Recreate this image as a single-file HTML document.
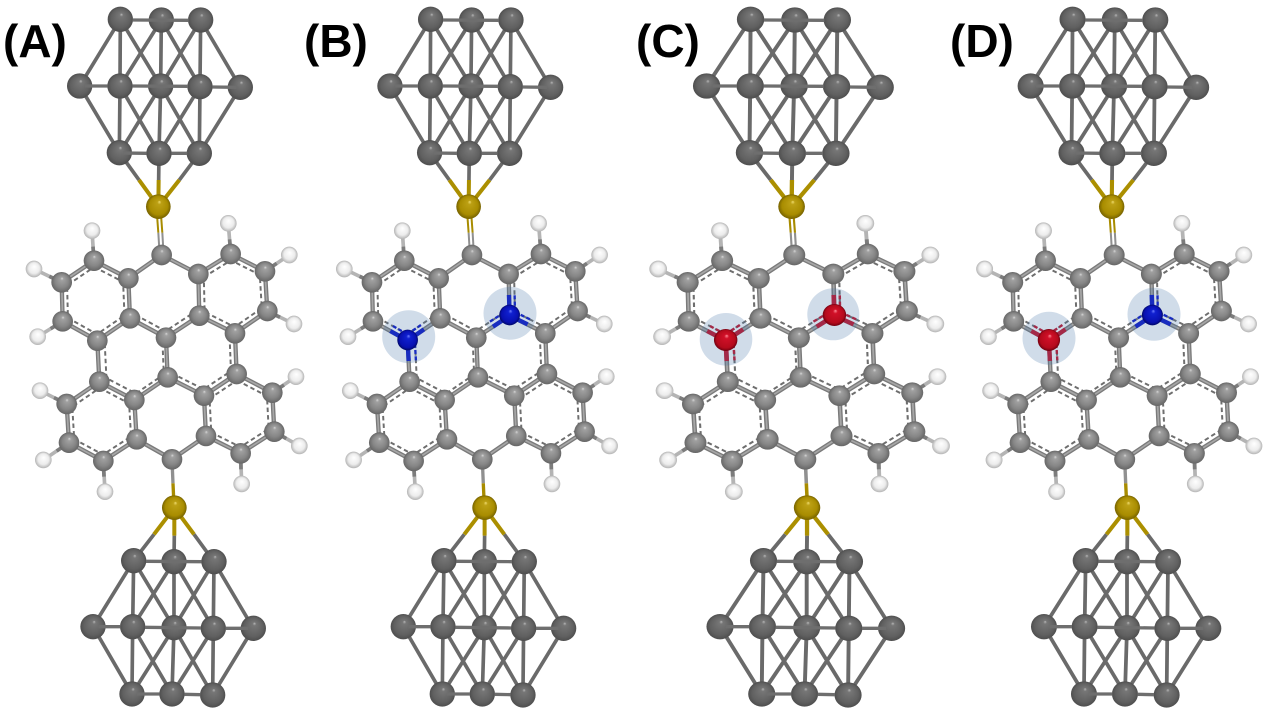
<!DOCTYPE html>
<html>
<head>
<meta charset="utf-8">
<title>Molecular junction panels</title>
<style>
html,body{margin:0;padding:0;background:#fff;width:1280px;height:720px;overflow:hidden}
svg{display:block}
text{font-family:"Liberation Sans",sans-serif;font-weight:bold;font-size:46px;fill:#000}
</style>
</head>
<body>
<svg width="1280" height="720" viewBox="0 0 1280 720" xmlns="http://www.w3.org/2000/svg">
<defs>
<radialGradient id="gc" cx=".5" cy=".5" r=".5" fx=".52" fy=".3"><stop offset="0" stop-color="#d8d8d8"/><stop offset=".16" stop-color="#a0a0a0"/><stop offset=".65" stop-color="#868686"/><stop offset="1" stop-color="#666666"/></radialGradient>
<radialGradient id="gm" cx=".5" cy=".5" r=".5" fx=".55" fy=".3"><stop offset="0" stop-color="#b8b8b8"/><stop offset=".14" stop-color="#767676"/><stop offset=".75" stop-color="#606060"/><stop offset="1" stop-color="#4e4e4e"/></radialGradient>
<radialGradient id="gs" cx=".5" cy=".5" r=".5" fx=".55" fy=".3"><stop offset="0" stop-color="#f0dc70"/><stop offset=".16" stop-color="#bca014"/><stop offset=".75" stop-color="#a88c00"/><stop offset="1" stop-color="#766200"/></radialGradient>
<radialGradient id="gh" cx=".5" cy=".5" r=".5" fx=".52" fy=".35"><stop offset="0" stop-color="#ffffff"/><stop offset=".65" stop-color="#ececec"/><stop offset="1" stop-color="#b4b4b4"/></radialGradient>
<radialGradient id="gn" cx=".5" cy=".5" r=".5" fx=".55" fy=".3"><stop offset="0" stop-color="#7080ff"/><stop offset=".2" stop-color="#1020d0"/><stop offset=".8" stop-color="#0810b0"/><stop offset="1" stop-color="#000868"/></radialGradient>
<radialGradient id="go" cx=".5" cy=".5" r=".5" fx=".55" fy=".3"><stop offset="0" stop-color="#ff8c98"/><stop offset=".2" stop-color="#d01028"/><stop offset=".8" stop-color="#b40a1c"/><stop offset="1" stop-color="#700010"/></radialGradient>

<circle id="C" r="31" fill="url(#gc)"/>
<circle id="H" r="25" fill="url(#gh)"/>
<circle id="M" r="38" fill="url(#gm)"/>
<circle id="S" r="37" fill="url(#gs)"/>
<circle id="N" r="31" fill="url(#gn)"/>
<circle id="O" r="33" fill="url(#go)"/>

<path id="cc" d="M425,165L325,235M425,165L535,222M325,235L222,182L125,247L128,364L232,422L330,355L325,235M535,222L632,162L735,214L742,333L645,400L538,347L535,222M330,355L438,413L538,347M232,422L238,545M438,413L443,532M645,400L650,522M238,545L343,600L443,532L552,587L650,522M238,545L140,612L147,728L250,783L350,718L343,600M650,522L757,578L763,695L662,760L558,708L552,587M350,718L456,778L558,708" fill="none"/>

<g id="bonds">
  <g stroke="#b4b4b4" stroke-width="11" fill="none">
    <path d="M222,182L216,92M632,162L625,70M125,247L42,207M735,214L808,165M128,364L53,410M742,333L822,372M140,612L60,572M757,578L828,530M147,728L70,780M763,695L838,738M250,783L255,875M662,760L665,852"/>
  </g>
  <g stroke="#7c7c7c" stroke-width="11" fill="none">
    <path d="M222,182L219,140M632,162L629,118M125,247L88,229M735,214L770,190M128,364L92,386M742,333L780,352M140,612L102,593M757,578L792,555M147,728L110,753M763,695L799,716M250,783L252,830M662,760L663,808"/>
  </g>
  <use href="#cc" stroke="#7a7a7a" stroke-width="13"/>
  <use href="#cc" stroke="#a6a6a6" stroke-width="5"/>
  <!-- C-S links -->
  <g fill="none" stroke-width="6">
    <path d="M419,165L415,98M431,165L427,98" stroke="#909090"/>
    <path d="M415,98L410,30M427,98L422,30" stroke="#a88c00"/>
  </g>
  <path d="M456,778L459,850" stroke="#909090" stroke-width="10" fill="none"/>
  <path d="M459,850L462,915" stroke="#a88c00" stroke-width="10" fill="none"/>
  <!-- aromatic dashes -->
  <g fill="none" stroke="#6e6e6e" stroke-width="7" stroke-dasharray="16 11">
    <polygon transform="matrix(.84 0 0 .84 36.3 48.2)" points="222,182 325,235 330,355 232,422 128,364 125,247"/>
    <polygon transform="matrix(.84 0 0 .84 102.1 44.8)" points="535,222 632,162 735,214 742,333 645,400 538,347"/>
    <polygon transform="matrix(.84 0 0 .84 39.2 106.2)" points="238,545 343,600 350,718 250,783 147,728 140,612"/>
    <polygon transform="matrix(.84 0 0 .84 105.1 102.7)" points="650,522 757,578 763,695 662,760 558,708 552,587"/>
    <polyline transform="matrix(.84 0 0 .84 69.1 46.4)" points="330,355 438,413 538,347"/>
    <polyline transform="matrix(.84 0 0 .84 59.4 76.5)" points="232,422 238,545 343,600 443,532 438,413"/>
    <polyline transform="matrix(.84 0 0 .84 87 74.7)" points="645,400 650,522 552,587 443,532"/>
  </g>
</g>

<g id="atoms">
  <use href="#H" x="216" y="92"/><use href="#H" x="625" y="70"/><use href="#H" x="808" y="165"/>
  <use href="#H" x="42" y="207"/><use href="#H" x="53" y="410"/><use href="#H" x="822" y="372"/>
  <use href="#H" x="60" y="572"/><use href="#H" x="828" y="530"/><use href="#H" x="70" y="780"/>
  <use href="#H" x="838" y="738"/><use href="#H" x="255" y="875"/><use href="#H" x="665" y="852"/>
  <use href="#C" x="425" y="165"/><use href="#C" x="325" y="235"/><use href="#C" x="535" y="222"/>
  <use href="#C" x="222" y="182"/><use href="#C" x="632" y="162"/><use href="#C" x="125" y="247"/>
  <use href="#C" x="735" y="214"/><use href="#C" x="128" y="364"/><use href="#C" x="742" y="333"/>
  <use href="#C" x="330" y="355"/><use href="#C" x="645" y="400"/><use href="#C" x="438" y="413"/>
  <use href="#C" x="238" y="545"/><use href="#C" x="650" y="522"/><use href="#C" x="443" y="532"/>
  <use href="#C" x="343" y="600"/><use href="#C" x="552" y="587"/><use href="#C" x="140" y="612"/>
  <use href="#C" x="757" y="578"/><use href="#C" x="147" y="728"/><use href="#C" x="763" y="695"/>
  <use href="#C" x="350" y="718"/><use href="#C" x="558" y="708"/><use href="#C" x="250" y="783"/>
  <use href="#C" x="662" y="760"/><use href="#C" x="456" y="778"/>
</g>

<g id="h12"><path d="M232,422L180,393M232,422L281,388M232,422L235,483" fill="none" stroke-width="13"/>
  <path d="M231,403L188,378M231,403L272,375M254,431L257,483" fill="none" stroke-width="7" stroke-dasharray="12 7"/></g>
<g id="h11"><path d="M538,347L536,285M538,347L592,373M538,347L488,380" fill="none" stroke-width="13"/>
  <path d="M554,336L553,284M554,336L599,358M521,338L479,365" fill="none" stroke-width="7" stroke-dasharray="12 7"/></g>

<g id="topc">
  <g fill="none" stroke="#6a6a6a" stroke-width="11">
    <path d="M181,58L59,258L178,458M422,60L541,262L418,460M181,58L180,258L178,458M304,60L302,258L297,460M422,60L420,260L418,460M181,58L302,258L418,460M304,60L180,258L297,460M304,60L420,260L297,460M422,60L302,258L178,460"/>
    <path d="M178,458L237,540M297,460L296,540M418,460L358,540"/>
  </g>
  <path d="M237,540L295,620M296,540L295,620M358,540L295,620" fill="none" stroke="#ab8f00" stroke-width="12"/>
  <use href="#M" x="181" y="58"/><use href="#M" x="304" y="60"/><use href="#M" x="422" y="60"/>
  <use href="#M" x="59" y="258"/><use href="#M" x="180" y="258"/><use href="#M" x="302" y="258"/><use href="#M" x="420" y="260"/><use href="#M" x="541" y="262"/>
  <use href="#M" x="178" y="458"/><use href="#M" x="297" y="460"/><use href="#M" x="418" y="460"/>
  <use href="#S" x="295" y="620"/>
  <path d="M218,60L386,61M75,258L143,258M217,258L384,259M457,261L530,262M190,459L260,460M334,460L382,460" fill="none" stroke="#6e6e6e" stroke-width="10"/>
</g>

<g id="botc">
  <g fill="none" stroke="#6a6a6a" stroke-width="11">
    <path d="M191,197L69,395L186,597M432,200L550,400L428,600M191,197L188,395L186,597M312,200L312,398L306,597M432,200L430,400L428,600M191,197L312,398L428,600M312,200L188,395L306,597M312,200L430,400L306,597M432,200L312,398L186,597"/>
    <path d="M191,197L252,118M312,200L313,122M432,200L372,118"/>
  </g>
  <path d="M252,118L313,38M313,122L313,38M372,118L313,38" fill="none" stroke="#ab8f00" stroke-width="12"/>
  <use href="#M" x="191" y="197"/><use href="#M" x="312" y="200"/><use href="#M" x="432" y="200"/>
  <use href="#M" x="69" y="395"/><use href="#M" x="188" y="395"/><use href="#M" x="312" y="398"/><use href="#M" x="430" y="400"/><use href="#M" x="550" y="400"/>
  <use href="#M" x="186" y="597"/><use href="#M" x="306" y="597"/><use href="#M" x="428" y="600"/>
  <use href="#S" x="313" y="38"/>
  <path d="M228,199L395,200M85,395L151,395M225,397L393,399M467,400L535,400M200,597L269,597M343,598L391,599" fill="none" stroke="#6e6e6e" stroke-width="10"/>
</g>
</defs>

<rect width="1280" height="720" fill="#fff"/>

<!-- Panel A -->
<g transform="matrix(.3333 0 0 .3333 20 200)">
  <use href="#bonds"/><use href="#atoms"/>
  <use href="#C" x="232" y="422"/><use href="#C" x="538" y="347"/>
</g>
<use href="#topc" transform="matrix(.3333 0 0 .3333 60 0)"/>
<use href="#botc" transform="matrix(.3333 0 0 .3333 70 495)"/>

<!-- Panel B -->
<g transform="matrix(.3333 0 0 .3333 330.3 200)">
  <use href="#bonds"/>
  <use href="#h12" stroke="#0a14c8"/><use href="#h11" stroke="#0a14c8"/>
</g>
<circle cx="408.7" cy="336.7" r="26.5" fill="#4472a8" fill-opacity=".25"/>
<circle cx="510" cy="313.3" r="26.5" fill="#4472a8" fill-opacity=".25"/>
<g transform="matrix(.3333 0 0 .3333 330.3 200)">
  <use href="#atoms"/>
  <use href="#N" x="232" y="420"/><use href="#N" x="538" y="345"/>
</g>
<use href="#topc" transform="matrix(.3333 0 0 .3333 370.3 0)"/>
<use href="#botc" transform="matrix(.3333 0 0 .3333 380.3 495)"/>

<!-- Panel C -->
<g transform="matrix(.3553 0 0 .3333 643.25 200)">
  <use href="#bonds"/>
  <use href="#h12" stroke="#c41028"/><use href="#h11" stroke="#c41028"/>
</g>
<circle cx="726" cy="339.3" r="26.3" fill="#4472a8" fill-opacity=".25"/>
<circle cx="833.3" cy="314.3" r="26" fill="#4472a8" fill-opacity=".25"/>
<g transform="matrix(.3553 0 0 .3333 643.25 200)">
  <use href="#atoms"/>
  <use href="#O" x="232" y="420"/><use href="#O" x="538" y="345"/>
</g>
<use href="#topc" transform="matrix(.36 0 0 .3333 685.4 0)"/>
<use href="#botc" transform="matrix(.3567 0 0 .3333 695.4 495)"/>

<!-- Panel D -->
<g transform="matrix(.3383 0 0 .3333 970.4 200)">
  <use href="#bonds"/>
  <use href="#h12" stroke="#c41028"/><use href="#h11" stroke="#0a14c8"/>
</g>
<circle cx="1049" cy="338.3" r="26.5" fill="#4472a8" fill-opacity=".25"/>
<circle cx="1154" cy="314.3" r="26.5" fill="#4472a8" fill-opacity=".25"/>
<g transform="matrix(.3383 0 0 .3333 970.4 200)">
  <use href="#atoms"/>
  <use href="#O" x="232" y="420"/><use href="#N" x="538" y="345"/>
</g>
<use href="#topc" transform="matrix(.3433 0 0 .3333 1010.4 0)"/>
<use href="#botc" transform="matrix(.3417 0 0 .3333 1020.4 495)"/>

<!-- Labels -->
<text x="3" y="57">(A)</text>
<text x="304" y="57">(B)</text>
<text x="636" y="57">(C)</text>
<text x="950" y="57">(D)</text>
</svg>
</body>
</html>
